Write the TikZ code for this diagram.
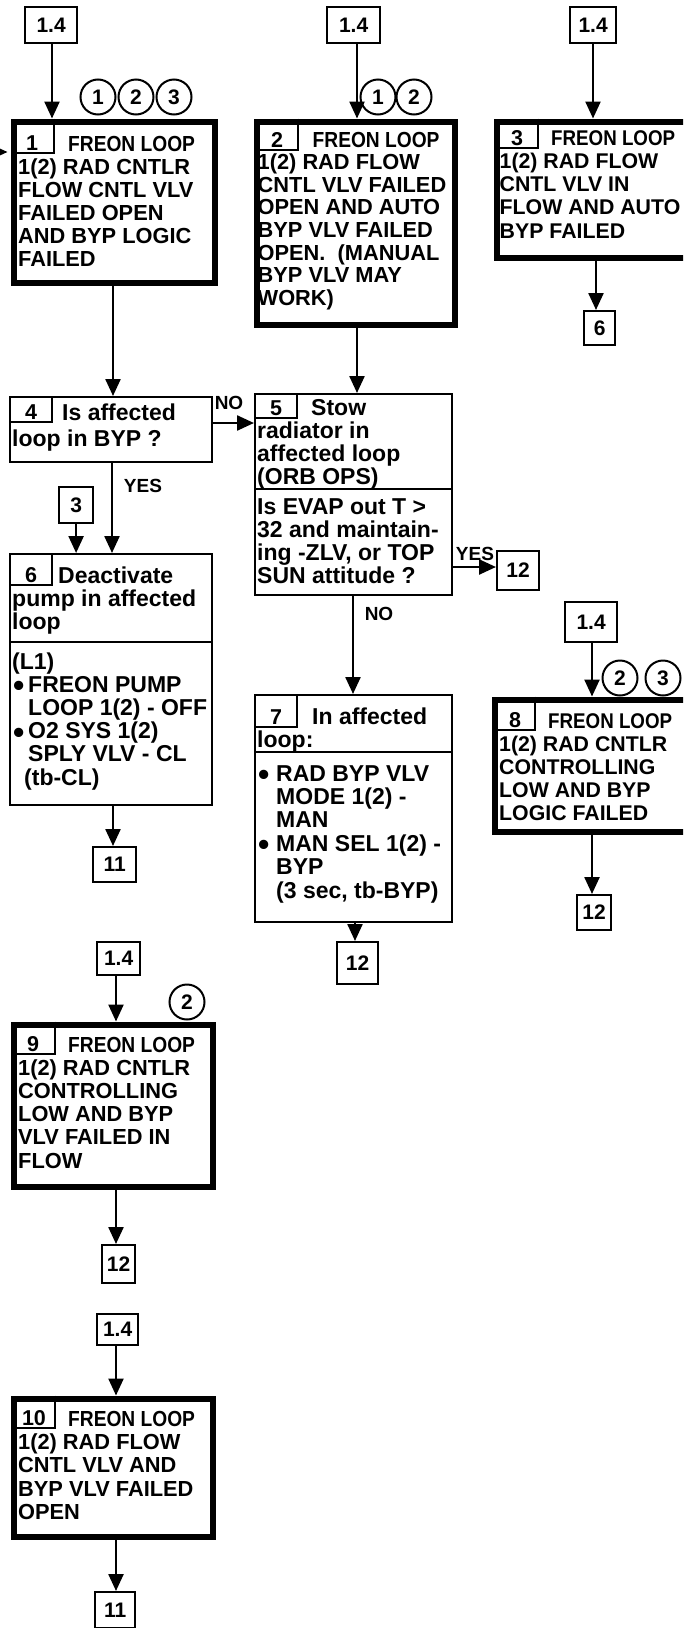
\documentclass[tikz,border=0pt]{standalone}
\usepackage{fontspec}
\setmainfont{Liberation Sans}
\usetikzlibrary{arrows.meta}
\newcommand\lns[2]{\parbox[t]{300pt}{\fontsize{21.8}{#1}\selectfont\bfseries\raggedright #2}}
\newcommand\lnr[2]{\parbox[t]{300pt}{\fontsize{21.3}{#1}\selectfont\bfseries\raggedright #2}}
\newcommand\lnl[2]{\parbox[t]{300pt}{\fontsize{23}{#1}\selectfont\bfseries\raggedright #2}}
\newcommand\FL{\scalebox{0.88}[1]{FREON LOOP}}
\newcommand\bul[1]{\makebox[#1][l]{\hspace*{1pt}\raisebox{-0.2em}{\scalebox{1.4}{\textbullet}}}}
\begin{document}
\begin{tikzpicture}[x=1pt,y=-1pt,
  thickbox/.style={draw, line width=6.8pt, inner sep=0pt, anchor=north west},
  thinbox/.style={draw, line width=2.3pt, inner sep=0pt, anchor=north west},
  sbox/.style={draw, line width=2.2pt, inner sep=0pt, anchor=north west, font=\fontsize{21}{21}\selectfont\bfseries},
  arr/.style={line width=2.4pt, -{Triangle[width=15pt,length=17pt]}},
  tabline/.style={line width=1.8pt},
  txt/.style={anchor=base west, inner sep=0pt},
  tabnum/.style={anchor=base, inner sep=0pt, font=\fontsize{21.5}{21.5}\selectfont\bfseries},
  num/.style={circle, draw, line width=2pt, minimum size=35pt, inner sep=0pt, font=\fontsize{21}{21}\selectfont\bfseries},
  lab/.style={inner sep=0pt, font=\fontsize{19}{19}\selectfont\bfseries}]
\useasboundingbox (0,0) rectangle (683,1628);
\fill[white] (0,0) rectangle (683,1628);
\clip (0,0) rectangle (683,1628);

% ---- main boxes
\node[thickbox, minimum width=201pt, minimum height=161pt] (b1) at (10.5,118.5) {};
\node[thickbox, minimum width=198pt, minimum height=203pt] (b2) at (253.5,118.5) {};
\node[thickbox, minimum width=250pt, minimum height=136pt] (b3) at (493.5,118.5) {};
\node[thinbox, minimum width=202pt, minimum height=65pt] (b4) at (9,396) {};
\node[thinbox, minimum width=197pt, minimum height=201pt] (b5) at (254,393) {};
\node[thinbox, minimum width=202pt, minimum height=251pt] (b6) at (9,553) {};
\node[thinbox, minimum width=197pt, minimum height=227pt] (b7) at (254,694) {};
\node[thickbox, minimum width=250pt, minimum height=132pt] (b8) at (491.5,696.5) {};
\node[thickbox, minimum width=199pt, minimum height=162pt] (b9) at (10.5,1021.5) {};
\node[thickbox, minimum width=199pt, minimum height=138pt] (b10) at (10.5,1395.5) {};

% dividers
\draw[line width=2.3pt] (b5.west |- 0,489) -- (b5.east |- 0,489);
\draw[line width=2.3pt] (b6.west |- 0,642) -- (b6.east |- 0,642);
\draw[line width=2.3pt] (b7.west |- 0,752) -- (b7.east |- 0,752);

% number tabs
\draw[tabline] (54,118.5) |- (13,153);
\draw[tabline] (298,118.5) |- (256,150);
\draw[tabline] (538,118.5) |- (496,148);
\draw[tabline] (52,396) |- (9,422);
\draw[tabline] (297,393) |- (254,418);
\draw[tabline] (52,553) |- (9,585);
\draw[tabline] (297,694) |- (254,727);
\draw[tabline] (535,696.5) |- (494,730);
\draw[tabline] (55,1021.5) |- (13,1054);
\draw[tabline] (55,1395.5) |- (13,1428);

% tab numbers
\node[tabnum] (n1) at (32,150) {1};
\node[tabnum] (n2) at (277,147) {2};
\node[tabnum] (n3) at (517,145) {3};
\node[tabnum] (n4) at (31,419) {4};
\node[tabnum] (n5) at (276,415) {5};
\node[tabnum] (n6) at (31,582) {6};
\node[tabnum] (n7) at (276,724) {7};
\node[tabnum] (n8) at (515,727) {8};
\node[tabnum] (n9) at (33,1051) {9};
\node[tabnum] (n10) at (34,1425) {10};

% box texts
\node[txt] (t1) at (18,151) {\lns{23}{\hspace*{50pt}\FL\\1(2) RAD CNTLR\\FLOW CNTL VLV\\FAILED OPEN\\AND BYP LOGIC\\FAILED}};
\node[txt] (t2) at (257.5,147) {\lns{22.6}{\hspace*{55pt}\FL\\1(2) RAD FLOW\\CNTL VLV FAILED\\OPEN AND AUTO\\BYP VLV FAILED\\OPEN.\ \ (MANUAL\\BYP VLV MAY\\WORK)}};
\node[txt] (t3) at (499.5,145) {\lnr{23.3}{\hspace*{51.5pt}\FL\\1(2) RAD FLOW\\CNTL VLV IN\\FLOW AND AUTO\\BYP FAILED}};
\node[txt] (t4) at (12,420) {\lnl{26}{\hspace*{50pt}Is affected\\loop in BYP ?}};
\node[txt] (t5) at (257,415) {\lnl{23}{\hspace*{54pt}Stow\\radiator in\\affected loop\\(ORB OPS)}};
\node[txt] (t5b) at (257,514) {\lnl{23}{Is EVAP out T >\\32 and maintain-\\ing -ZLV, or TOP\\SUN attitude ?}};
\node[txt] (t6) at (12,583) {\lnl{23.4}{\hspace*{46pt}Deactivate\\pump in affected\\loop}};
\node[txt] (t6b) at (12,669) {\lnl{23.2}{(L1)\\\bul{16pt}FREON PUMP\\\hspace*{16pt}LOOP 1(2) - OFF\\\bul{16pt}O2 SYS 1(2)\\\hspace*{16pt}SPLY VLV - CL\\\hspace*{12pt}(tb-CL)}};
\node[txt] (t7) at (257,724) {\lnl{23}{\hspace*{55pt}In affected\\loop:}};
\node[txt] (t7b) at (257,781) {\lnl{23.4}{\bul{19pt}RAD BYP VLV\\\hspace*{19pt}MODE 1(2) -\\\hspace*{19pt}MAN\\\bul{19pt}MAN SEL 1(2) -\\\hspace*{19pt}BYP\\\hspace*{19pt}(3 sec, tb-BYP)}};
\node[txt] (t8) at (499,728) {\lnr{23.2}{\hspace*{49pt}\FL\\1(2) RAD CNTLR\\CONTROLLING\\LOW AND BYP\\LOGIC FAILED}};
\node[txt] (t9) at (18,1052) {\lns{23.2}{\hspace*{50pt}\FL\\1(2) RAD CNTLR\\CONTROLLING\\LOW AND BYP\\VLV FAILED IN\\FLOW}};
\node[txt] (t10) at (18,1426) {\lns{23.4}{\hspace*{50pt}\FL\\1(2) RAD FLOW\\CNTL VLV AND\\BYP VLV FAILED\\OPEN}};

% ---- small reference boxes
\node[sbox, minimum width=52pt, minimum height=36pt] (s14a) at (24,6) {1.4};
\node[sbox, minimum width=53pt, minimum height=36pt] (s14b) at (326,6) {1.4};
\node[sbox, minimum width=46pt, minimum height=36pt] (s14c) at (569,6) {1.4};
\node[sbox, minimum width=31pt, minimum height=34pt] (s6) at (583,310) {6};
\node[sbox, minimum width=34pt, minimum height=36pt] (s3) at (58,486) {3};
\node[sbox, minimum width=42pt, minimum height=39pt] (s12a) at (496,550) {12};
\node[sbox, minimum width=43pt, minimum height=35pt] (s11a) at (92,846) {11};
\node[sbox, minimum width=41pt, minimum height=42pt] (s12b) at (336,941) {12};
\node[sbox, minimum width=52pt, minimum height=40pt] (s14d) at (564,601) {1.4};
\node[sbox, minimum width=34pt, minimum height=35pt] (s12c) at (576,894) {12};
\node[sbox, minimum width=43pt, minimum height=33pt] (s14e) at (96,941) {1.4};
\node[sbox, minimum width=33pt, minimum height=38pt] (s12d) at (101,1244) {12};
\node[sbox, minimum width=41pt, minimum height=31pt] (s14f) at (96,1313) {1.4};
\node[sbox, minimum width=40pt, minimum height=36pt] (s11b) at (94,1591) {11};

% ---- circled numbers
\node[num] (c1a) at (98,97) {1};
\node[num] (c1b) at (136,97) {2};
\node[num] (c1c) at (174,97) {3};
\node[num] (c2a) at (378,97) {1};
\node[num] (c2b) at (414,97) {2};
\node[num] (c8a) at (620,678) {2};
\node[num] (c8b) at (663,678) {3};
\node[num] (c9) at (187,1002) {2};

% ---- connectors
\coordinate (lin) at (-12,152);
\draw[arr, shorten >=3pt] (lin) -- (lin -| b1.west);
\draw[arr] (52,0 |- s14a.south) -- (52,0 |- b1.north);
\draw[arr] (357,0 |- s14b.south) -- (357,0 |- b2.north);
\draw[arr] (593,0 |- s14c.south) -- (593,0 |- b3.north);
\draw[arr] (596,0 |- b3.south) -- (596,0 |- s6.north);
\draw[arr] (113,0 |- b1.south) -- (113,0 |- b4.north);
\draw[arr] (357,0 |- b2.south) -- (357,0 |- b5.north);
\draw[arr] (b4.east |- 0,423) -- (b5.west |- 0,423);
\draw[arr] (112,0 |- b4.south) -- (112,0 |- b6.north);
\draw[arr] (s3.south) -- (s3.south |- b6.north);
\draw[arr] (b5.east |- 0,567) -- (s12a.west |- 0,567);
\draw[arr] (353,0 |- b5.south) -- (353,0 |- b7.north);
\draw[arr] (113,0 |- b6.south) -- (113,0 |- s11a.north);
\draw[arr] (355,0 |- b7.south) -- (355,0 |- s12b.north);
\draw[arr] (592,0 |- s14d.south) -- (592,0 |- b8.north);
\draw[arr] (592,0 |- b8.south) -- (592,0 |- s12c.north);
\draw[arr] (116,0 |- s14e.south) -- (116,0 |- b9.north);
\draw[arr] (116,0 |- b9.south) -- (116,0 |- s12d.north);
\draw[arr] (116,0 |- s14f.south) -- (116,0 |- b10.north);
\draw[arr] (116,0 |- b10.south) -- (116,0 |- s11b.north);

% ---- connector labels
\node[lab] (lno1) at (229,403) {NO};
\node[lab] (lyes1) at (143,486) {YES};
\node[lab] (lyes2) at (475,554) {YES};
\node[lab] (lno2) at (379,614) {NO};
\end{tikzpicture}
\end{document}
